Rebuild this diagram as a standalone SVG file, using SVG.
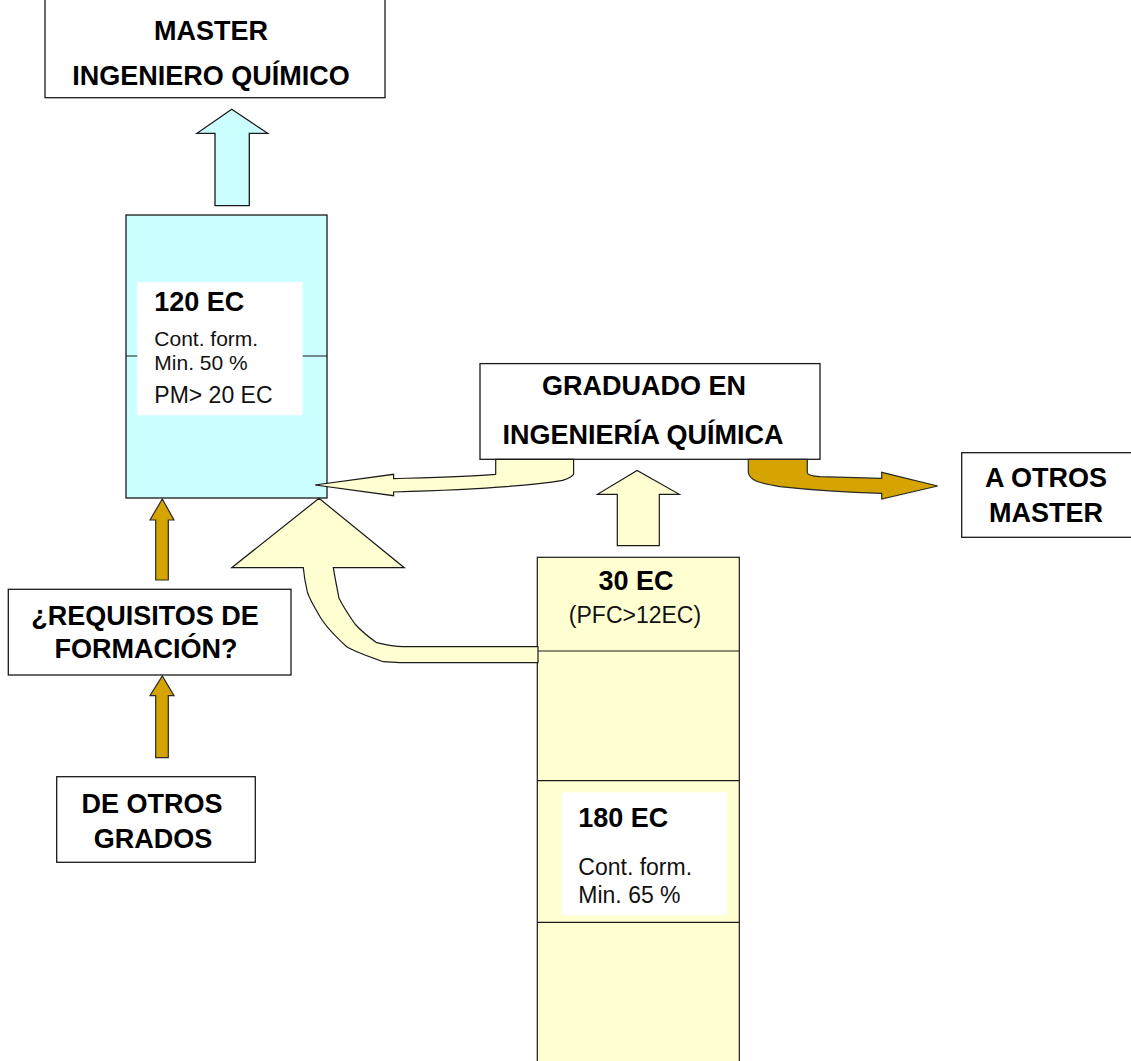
<svg xmlns="http://www.w3.org/2000/svg" width="1131" height="1061" viewBox="0 0 1131 1061">
  <style>
    .box { fill: #ffffff; stroke: #1a1a1a; stroke-width: 1.3; }
    .cyan { fill: #ccffff; stroke: #1a1a1a; stroke-width: 1.3; }
    .cream { fill: #ffffd2; stroke: #1a1a1a; stroke-width: 1.2; }
    .gold { fill: #d6a400; stroke: #2a2a2a; stroke-width: 1.2; }
    .div { stroke: #1a1a1a; stroke-width: 1.2; fill: none; }
    .lbl { fill: #ffffff; stroke: none; }
    .t { font-family: "Liberation Sans", Arial, sans-serif; font-weight: bold; font-size: 27px; fill: #000; }
    .tc { text-anchor: middle; }
    .r { font-family: "Liberation Sans", Arial, sans-serif; font-size: 23px; fill: #111; }
    .rs { font-size: 21px; }
  </style>

  <!-- master box, partly above the top edge -->
  <g id="master">
    <rect class="box" x="45" y="-10" width="340" height="107.7"/>
    <text class="t tc" x="211" y="40">MASTER</text>
    <text class="t tc" x="211" y="85">INGENIERO QUÍMICO</text>
  </g>

  <!-- 120 EC block of the master -->
  <g id="master-credits">
    <rect class="cyan" x="126" y="215" width="201" height="283"/>
    <line class="div" x1="126" y1="356" x2="327" y2="356"/>
    <rect class="lbl" x="137.3" y="282" width="165.4" height="133.3"/>
    <text class="t" x="154.3" y="310.7">120 EC</text>
    <text class="r rs" x="154.3" y="345.5">Cont. form.</text>
    <text class="r rs" x="154.3" y="369.5">Min. 50 %</text>
    <text class="r" x="154.3" y="403.3">PM&gt; 20 EC</text>
  </g>

  <g id="graduado">
    <rect class="box" x="480" y="363.6" width="340" height="95.7"/>
    <text class="t tc" x="644" y="394.6">GRADUADO EN</text>
    <text class="t tc" x="643" y="444">INGENIERÍA QUÍMICA</text>
  </g>

  <g id="otros-master">
    <rect class="box" x="961.7" y="452.7" width="180" height="84.6"/>
    <text class="t tc" x="1046" y="486.7">A OTROS</text>
    <text class="t tc" x="1046" y="521.7">MASTER</text>
  </g>

  <g id="requisitos">
    <rect class="box" x="8.3" y="589.3" width="282.7" height="85.7"/>
    <text class="t tc" x="145" y="625">¿REQUISITOS DE</text>
    <text class="t tc" x="146" y="658.3">FORMACIÓN?</text>
  </g>

  <g id="otros-grados">
    <rect class="box" x="56.7" y="776.7" width="198.6" height="85.6"/>
    <text class="t tc" x="152" y="813.3">DE OTROS</text>
    <text class="t tc" x="153" y="848.3">GRADOS</text>
  </g>

  <!-- grado column: 30 EC on top of 180 EC -->
  <g id="grado-column">
    <rect class="cream" x="537.3" y="557.3" width="202" height="520"/>
    <line class="div" x1="537.3" y1="651" x2="739.3" y2="651"/>
    <line class="div" x1="537.3" y1="780.7" x2="739.3" y2="780.7"/>
    <line class="div" x1="537.3" y1="922.3" x2="739.3" y2="922.3"/>
    <text class="t tc" x="636" y="590">30 EC</text>
    <text class="r tc" x="635" y="623.3">(PFC&gt;12EC)</text>
    <rect class="lbl" x="561.7" y="792.3" width="165" height="123"/>
    <text class="t" x="578.3" y="826.7">180 EC</text>
    <text class="r" x="578.3" y="875">Cont. form.</text>
    <text class="r" x="578.3" y="903.3">Min. 65 %</text>
  </g>

  <!-- connectors, drawn last so arrow tips sit over the block edges -->
  <g id="connectors">
    <!-- cyan arrow: 120 EC block up to master -->
    <path class="cyan" d="M215,205.7 L215,133.3 L197,133.3 L231.7,109.3 L267.7,133.3 L249.3,133.3 L249.3,205.7 Z"/>
    <!-- gold arrow: requisitos up to 120 EC block -->
    <path class="gold" d="M155.7,580 L155.7,520 L150,520 L162.3,499 L174,520 L168.3,520 L168.3,580 Z"/>
    <!-- gold arrow: otros grados up to requisitos -->
    <path class="gold" d="M155.7,757.7 L155.7,695.7 L150,695.7 L162.3,676 L174,695.7 L168.3,695.7 L168.3,757.7 Z"/>
    <!-- cream arrow: 30 EC column up to graduado -->
    <path class="cream" d="M617.3,545.7 L617.3,494.3 L597.5,494.3 L637.1,470.4 L679.3,494.3 L659.3,494.3 L659.3,545.7 Z"/>
    <!-- cream bent arrow: graduado back to the 120 EC block -->
    <path class="cream" d="M495.7,459.3 L495.7,474.3 C470,476.5 430,477.5 393.6,478.6 L393.6,474.3 L315,485 L393.6,495.7 L393.6,492 C460,490 530,486 562.5,480.4 C568,478.5 572,476.5 573.6,474.3 L573.6,459.3 Z"/>
    <!-- gold bent arrow: graduado to other masters -->
    <path class="gold" d="M748.3,459.3 L748.3,472 C749,480 758,483 780,486.7 C810,490 850,492.5 881.7,493.3 L881.7,499 L937.7,486 L881.7,472.3 L881.7,478.3 L820,476.7 C812,476 807.3,474.5 807.3,472.7 L807.3,459.3 Z"/>
    <!-- large cream curved arrow: 30 EC column round into the 120 EC block -->
    <path class="cream" d="M538,662.7 L403.3,662.7 C395,662.7 388,662 383.3,661.7 C370,657 356,652 346.7,646.7 C335,636 326,627 320,616.7 C313,605 309,598 307.3,591.7 C305,582 304,575 303.3,567.7 L231.7,567.7 L319,498.3 L404.3,567.7 L333.3,567.7 C335,578 337,588 339,598.3 C344,608 350,617 355,624 C362,632 370,638 376.7,642.7 C386,645 395,646.7 403.3,646.7 L538,646.7 Z"/>
  </g>
</svg>
